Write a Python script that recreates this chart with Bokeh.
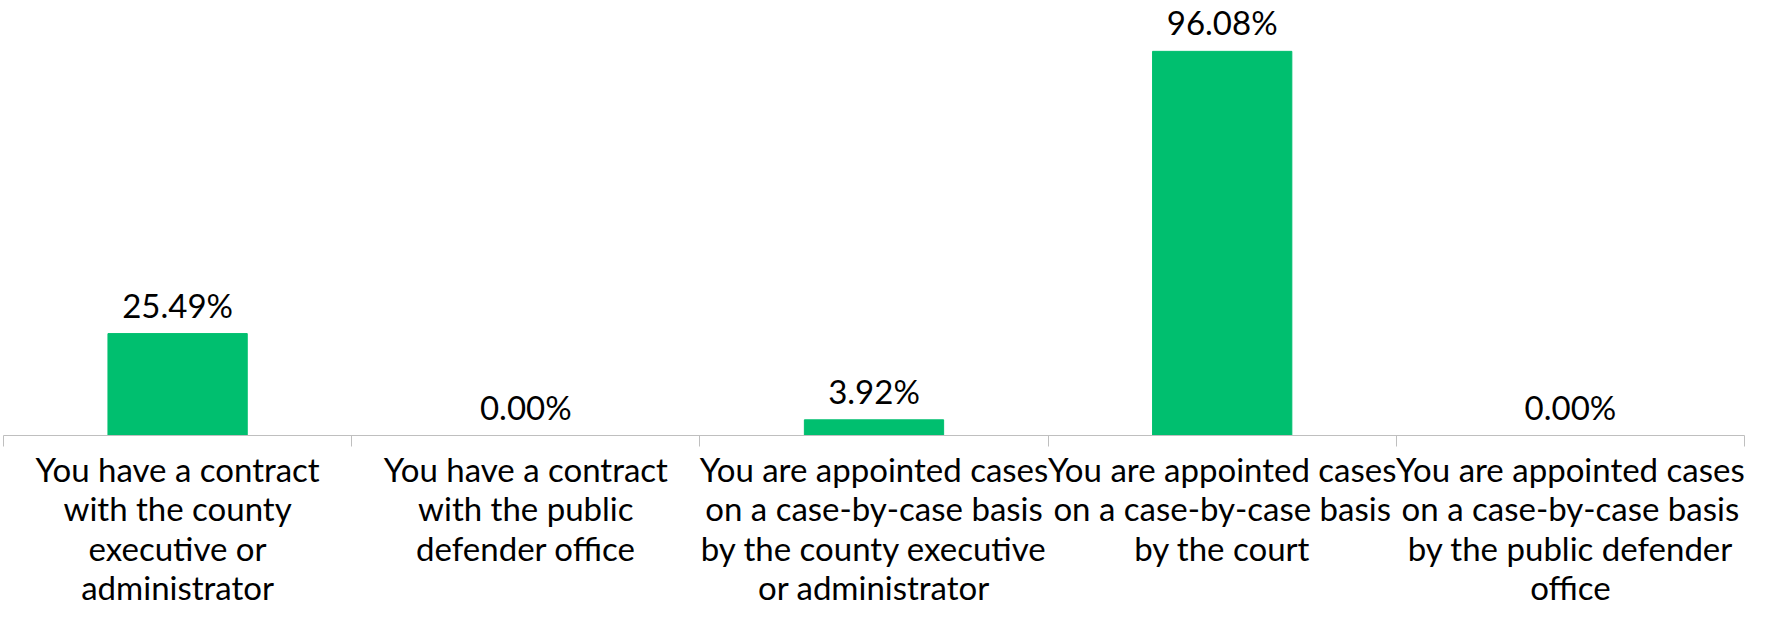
from bokeh.plotting import figure
from bokeh.models import FixedTicker, Range1d
from bokeh.embed import file_html
from bokeh.resources import INLINE
from bokeh.core.properties import value

categories = [
    "You have a contract\nwith the county\nexecutive or\nadministrator",
    "You have a contract\nwith the public\ndefender office",
    "You are appointed cases\non a case-by-case basis\nby the county executive\nor administrator",
    "You are appointed cases\non a case-by-case basis\nby the court",
    "You are appointed cases\non a case-by-case basis\nby the public defender\noffice",
]
percentages = [25.49, 0.00, 3.92, 96.08, 0.00]
value_labels = [f"{v:.2f}%" for v in percentages]

centers = [i + 0.5 for i in range(len(categories))]
boundaries = list(range(len(categories) + 1))

FONT = "Lato"
GREEN = "#00BF6F"
GRAY = "#BFBFBF"

p = figure(width=1759, height=610, output_backend="svg", toolbar_location=None,
           x_range=Range1d(0, len(categories)), y_range=Range1d(0, 108.8),
           y_axis_location=None,
           min_border_left=3, min_border_right=15, min_border_top=0, min_border_bottom=0)

p.vbar(x=centers, top=percentages, width=0.4, color=GREEN)
p.text(x=centers, y=percentages, text=value_labels, y_offset=-29,
       text_align="center", text_baseline="middle",
       text_font=value(FONT), text_font_size="33px", text_color="black")

p.xgrid.visible = False
p.ygrid.visible = False
p.outline_line_color = None

ax = p.xaxis[0]
ax.ticker = FixedTicker(ticks=centers, minor_ticks=boundaries)
ax.major_label_overrides = {c: lab for c, lab in zip(centers, categories)}
ax.major_tick_line_color = None
ax.major_tick_in = 0
ax.major_tick_out = 11
ax.minor_tick_in = 0
ax.minor_tick_out = 11
ax.minor_tick_line_color = GRAY
ax.axis_line_color = GRAY
ax.major_label_text_font = FONT
ax.major_label_text_font_size = "33px"
ax.major_label_text_color = "black"
ax.major_label_text_line_height = 0.99
ax.major_label_standoff = 2

open("out.html", "w").write(file_html(p, INLINE))
